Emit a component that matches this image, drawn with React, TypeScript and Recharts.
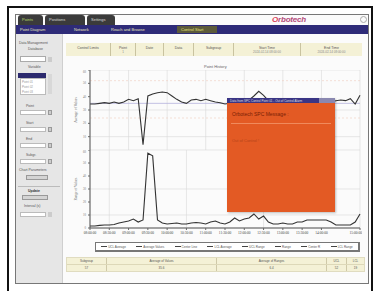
import React from 'react';
import { LineChart, Line, XAxis, YAxis, CartesianGrid, ReferenceLine } from 'recharts';

// top panel: subgroup average, bottom panel: range
const avgValues = [
  34.5, 34.5, 35, 35.5, 35, 36, 35, 36, 38, 37, 38.5, 4, 40.5, 42, 43, 43.5, 43, 40.5, 38, 36,
  35, 37.5, 38, 37, 38, 37, 36, 35.5, 34.5, 35, 36, 37, 36, 37.5, 40.5, 44, 41, 37, 36, 35,
  35.5, 35, 36, 35.5, 35, 36, 36.5, 36, 35.5, 36, 36, 37, 37.5, 37, 38.5, 34.5, 41,
];
const rangeValues = [
  1.5, 1.5, 2, 2.3, 2.3, 2.7, 3.8, 4.6, 5.4, 6.9, 4.6, 6.2, 57.5, 55.5, 6.2, 3.8, 3.1, 3.5, 3.8, 3.1,
  3.1, 3.8, 4.2, 3.8, 3.1, 4.6, 5.4, 3.8, 3.1, 4.6, 7.7, 5.4, 6.9, 7.7, 10.8, 6.9, 9.2, 4.6, 3.1, 3.1,
  3.8, 3.1, 3.1, 4.6, 4.6, 6.2, 6.2, 6.2, 6.2, 6.2, 4.6, 2.3, 2.3, 2.3, 2.3, 4.6, 10.8,
];
const xTicks = [0, 4, 8, 12, 16, 20, 24, 28, 32, 36, 40, 44, 48, 52, 56];
const xTickLabels = [
  '08:00:00', '08:30:00', '09:00:00', '09:30:00', '10:00:00', '10:30:00', '11:00:00', '11:30:00',
  '12:00:00', '12:30:00', '13:00:00', '13:30:00', '14:00:00', '14:30:00', '15:00:00',
];
const yTicks = [0, 10, 20, 30, 40, 50, 60];
const legendItems = ['UCL Average', 'Average Values', 'Center Line', 'LCL Average', 'UCL Range', 'Range', 'Center R', 'LCL Range'];
const headerCells = ['Control Limits', 'Point', 'Date', 'Data', 'Subgroup', 'Start Time', 'End Time'];
const headerWidths = [45, 25, 28, 30, 40, 67, 61];
const footCols = ['Subgroup', 'Average of Values', 'Average of Ranges', 'UCL', 'LCL'];
const footVals = ['57', '35.6', '6.4', '52', '19'];
const footWidths = [40, 110, 110, 20, 17];

const data = avgValues.map((v, i) => ({ i, avg: v, range: rangeValues[i] }));

const tiny = { fontFamily: 'Arial, "Liberation Sans", sans-serif' };

function Box({ x, y, w, h, style, children }: any) {
  return (
    <div style={{ position: 'absolute', left: x, top: y, width: w, height: h, boxSizing: 'border-box', ...style }}>
      {children}
    </div>
  );
}

function Txt({ x, y, size = 4, color = '#555', children, bold }: any) {
  return (
    <div style={{ position: 'absolute', left: x, top: y, fontSize: size, lineHeight: 1, color, whiteSpace: 'nowrap', fontWeight: bold ? 700 : 400, ...tiny }}>
      {children}
    </div>
  );
}

function Sidebar() {
  const field = (y: number, label: string) => (
    <React.Fragment key={y}>
      <Txt x={26} y={y - 5} size={3.5}>{label}</Txt>
      <Box x={20} y={y} w={26} h={5} style={{ background: '#fff', border: '1px solid #bbb' }} />
      <Box x={48} y={y} w={4} h={5} style={{ background: '#ccc', border: '1px solid #999' }} />
    </React.Fragment>
  );
  return (
    <>
      <Box x={16} y={34} w={47} h={249} style={{ background: '#e6e6e6', borderRight: '1px solid #cfcfcf' }} />
      <Txt x={19} y={42} size={3.5}>Data Management</Txt>
      <Txt x={28} y={48} size={3.5}>Database</Txt>
      <Box x={20} y={56} w={26} h={6} style={{ background: '#fff', border: '1px solid #aaa' }} />
      <Box x={48} y={57} w={4} h={5} style={{ background: '#ccc' }} />
      <Txt x={28} y={66} size={3.5}>Variable</Txt>
      <Box x={18} y={73} w={28} h={5} style={{ background: '#2c2a6e' }} />
      <Box x={20} y={78} w={26} h={17} style={{ background: '#fff', border: '1px solid #bbb' }} />
      <Txt x={22} y={81} size={3} color="#999">Point 01</Txt>
      <Txt x={22} y={86} size={3} color="#999">Point 02</Txt>
      <Txt x={22} y={91} size={3} color="#999">Point 03</Txt>
      <Box x={48} y={74} w={4} h={20} style={{ background: '#d8d8d8' }} />
      {field(110, 'Point')}
      {field(127, 'Start')}
      {field(143, 'End')}
      {field(159, 'Subgr.')}
      <Txt x={19} y={169} size={3.5}>Chart Parameters</Txt>
      <Box x={26} y={175} w={22} h={5} style={{ background: '#d4d4d4', border: '1px solid #999' }} />
      <Box x={18} y={186} w={42} h={1} style={{ background: '#bbb' }} />
      <Txt x={28} y={190} size={3.5} bold color="#333">Update</Txt>
      <Box x={22} y={195} w={26} h={5} style={{ background: '#d4d4d4', border: '1px solid #999' }} />
      <Txt x={24} y={205} size={3.5}>Interval (s)</Txt>
      <Box x={20} y={212} w={26} h={5} style={{ background: '#fff', border: '1px solid #bbb' }} />
      <Box x={48} y={212} w={4} h={5} style={{ background: '#ccc' }} />
    </>
  );
}

export default function App() {
  const axisTick = { fontSize: 3, fill: '#777' };
  return (
    <div style={{ position: 'absolute', left: 0, top: 0, width: 379, height: 291, background: '#fff', overflow: 'hidden' }}>
      {/* frames */}
      <Box x={7} y={6} w={366} h={300} style={{ border: '2px solid #111' }} />
      <Box x={15} y={14} w={354} h={270} style={{ border: '1px solid #777', background: '#fbfbfb' }} />

      {/* tabs */}
      {[
        { x: 18, w: 25, t: 'Points', c: '#b6d66a' },
        { x: 45, w: 40, t: 'Positions', c: '#ddd' },
        { x: 87, w: 28, t: 'Settings', c: '#ddd' },
      ].map((tab) => (
        <React.Fragment key={tab.t}>
          <Box x={tab.x} y={15} w={tab.w} h={10} style={{ background: '#3b3b3b', borderRadius: '3px 3px 0 0' }} />
          <Txt x={tab.x + 4} y={18} size={4} color={tab.c}>{tab.t}</Txt>
        </React.Fragment>
      ))}
      <Box x={16} y={25} w={352} h={9} style={{ background: '#2e2b78' }} />
      <Txt x={20} y={28} size={4} color="#e8e4b8">Point Diagram</Txt>
      <Txt x={74} y={28} size={4} color="#e8e4b8">Network</Txt>
      <Txt x={111} y={28} size={4} color="#e8e4b8">Reach and Browse</Txt>
      <Box x={177} y={26} w={40} h={7} style={{ background: '#5c5a3a' }} />
      <Txt x={181} y={28} size={4} color="#e6e27a">Control Start</Txt>

      {/* logo */}
      <div style={{ position: 'absolute', left: 272, top: 15, fontSize: 8, fontWeight: 700, fontStyle: 'italic', letterSpacing: -0.2, ...tiny }}>
        <span style={{ color: '#d9435a' }}>O</span>
        <span style={{ color: '#b34a7a' }}>rbotech</span>
      </div>
      <Box x={360} y={16} w={7} h={7} style={{ border: '1px solid #aaa', borderRadius: '50%' }} />

      <Sidebar />

      {/* header table */}
      <div style={{ position: 'absolute', left: 66, top: 43, display: 'flex', height: 13, background: '#f4f1d6' }}>
        {headerCells.map((c, k) => (
          <div key={c} style={{ width: headerWidths[k], borderRight: k < headerCells.length - 1 ? '1px solid #c9c3a0' : 'none', textAlign: 'center', fontSize: 3.5, color: '#555', paddingTop: 3, boxSizing: 'border-box', ...tiny }}>
            {c}
            <div style={{ fontSize: 3, color: '#888' }}>{k === 1 ? '1' : k > 4 ? '2024-02-14 08:00:00' : ''}</div>
          </div>
        ))}
      </div>

      <Txt x={204} y={65} size={4} color="#666">Point History</Txt>

      {/* charts */}
      <div style={{ position: 'absolute', left: 62, top: 70 }}>
        <LineChart width={300} height={80} data={data} margin={{ top: 0, right: 2, bottom: 0, left: 0 }}>
          <CartesianGrid stroke="#d9d9d9" strokeWidth={0.6} />
          <XAxis dataKey="i" type="number" domain={[0, 56]} ticks={xTicks} hide />
          <YAxis
            domain={[0, 60]}
            ticks={yTicks}
            width={28}
            tick={axisTick}
            tickSize={2}
            axisLine={{ stroke: '#555' }}
            label={{ value: 'Average of Values', angle: -90, position: 'center', fontSize: 3.5, fill: '#666' }}
          />
          <ReferenceLine y={52} stroke="#f0cdbd" strokeDasharray="2 2" strokeWidth={0.6} />
          <ReferenceLine y={35} stroke="#b3b0dc" strokeWidth={0.8} />
          <ReferenceLine y={24} stroke="#f0cdbd" strokeDasharray="2 2" strokeWidth={0.6} />
          <Line dataKey="avg" stroke="#333" strokeWidth={1.1} dot={false} isAnimationActive={false} />
        </LineChart>
      </div>
      <div style={{ position: 'absolute', left: 62, top: 150 }}>
        <LineChart width={300} height={88} data={data} margin={{ top: 0, right: 2, bottom: 0, left: 0 }}>
          <CartesianGrid stroke="#d9d9d9" strokeWidth={0.6} />
          <XAxis
            dataKey="i"
            type="number"
            domain={[0, 56]}
            ticks={xTicks}
            height={10}
            tick={{ fontSize: 3.5, fill: '#444' }}
            tickSize={2}
            tickFormatter={(v: number) => xTickLabels[xTicks.indexOf(v)]}
            axisLine={{ stroke: '#555' }}
          />
          <YAxis
            domain={[0, 60]}
            ticks={yTicks}
            width={28}
            tick={axisTick}
            tickSize={2}
            axisLine={{ stroke: '#555' }}
            label={{ value: 'Range of Values', angle: -90, position: 'center', fontSize: 3.5, fill: '#666' }}
          />
          <Line dataKey="range" stroke="#333" strokeWidth={1.1} dot={false} isAnimationActive={false} />
        </LineChart>
      </div>

      {/* legend */}
      <div style={{ position: 'absolute', left: 95, top: 242, width: 262, height: 7, border: '1px solid #777', borderBottomWidth: 2, borderRightWidth: 2, display: 'flex', alignItems: 'center', justifyContent: 'space-around', background: '#fff' }}>
        {legendItems.map((l) => (
          <div key={l} style={{ display: 'flex', alignItems: 'center', gap: 1 }}>
            <div style={{ width: 6, height: 1, background: '#444' }} />
            <span style={{ fontSize: 3, color: '#555', ...tiny }}>{l}</span>
          </div>
        ))}
      </div>

      {/* foot table */}
      <div style={{ position: 'absolute', left: 66, top: 257, background: '#f4f1d6', border: '1px solid #e0dcc0' }}>
        {[footCols, footVals].map((row, r) => (
          <div key={r} style={{ display: 'flex', height: 6, borderBottom: r === 0 ? '1px solid #ddd8b8' : 'none' }}>
            {row.map((c, k) => (
              <div key={k} style={{ width: footWidths[k], borderRight: k < 4 ? '1px solid #cfc9a8' : 'none', textAlign: 'center', fontSize: 3, color: '#555', paddingTop: 1, boxSizing: 'border-box', ...tiny }}>
                {c}
              </div>
            ))}
          </div>
        ))}
      </div>

      {/* SPC message popup */}
      <div style={{ position: 'absolute', left: 227, top: 98, width: 108, height: 114, background: '#e35a24', boxShadow: '1px 1px 2px rgba(0,0,0,0.25)' }}>
        <div style={{ height: 5, background: '#3a3585', display: 'flex' }}>
          <span style={{ fontSize: 3, color: '#ddd', paddingLeft: 3, paddingTop: 1, ...tiny }}>Data from SPC Control Point 01 - Out of Control Alarm</span>
        </div>
        <Box x={92} y={0} w={16} h={5} style={{ background: '#8a88b0' }} />
        <div style={{ position: 'absolute', left: 5, top: 13, fontSize: 5, color: '#7a1f05', ...tiny }}>Orbotech SPC Message :</div>
        <div style={{ position: 'absolute', left: 4, top: 25, width: 100, height: 1, background: '#f08a5c' }} />
        <div style={{ position: 'absolute', left: 5, top: 40, fontSize: 4, color: '#b5441a', ...tiny }}>Out of Control !</div>
      </div>
    </div>
  );
}
